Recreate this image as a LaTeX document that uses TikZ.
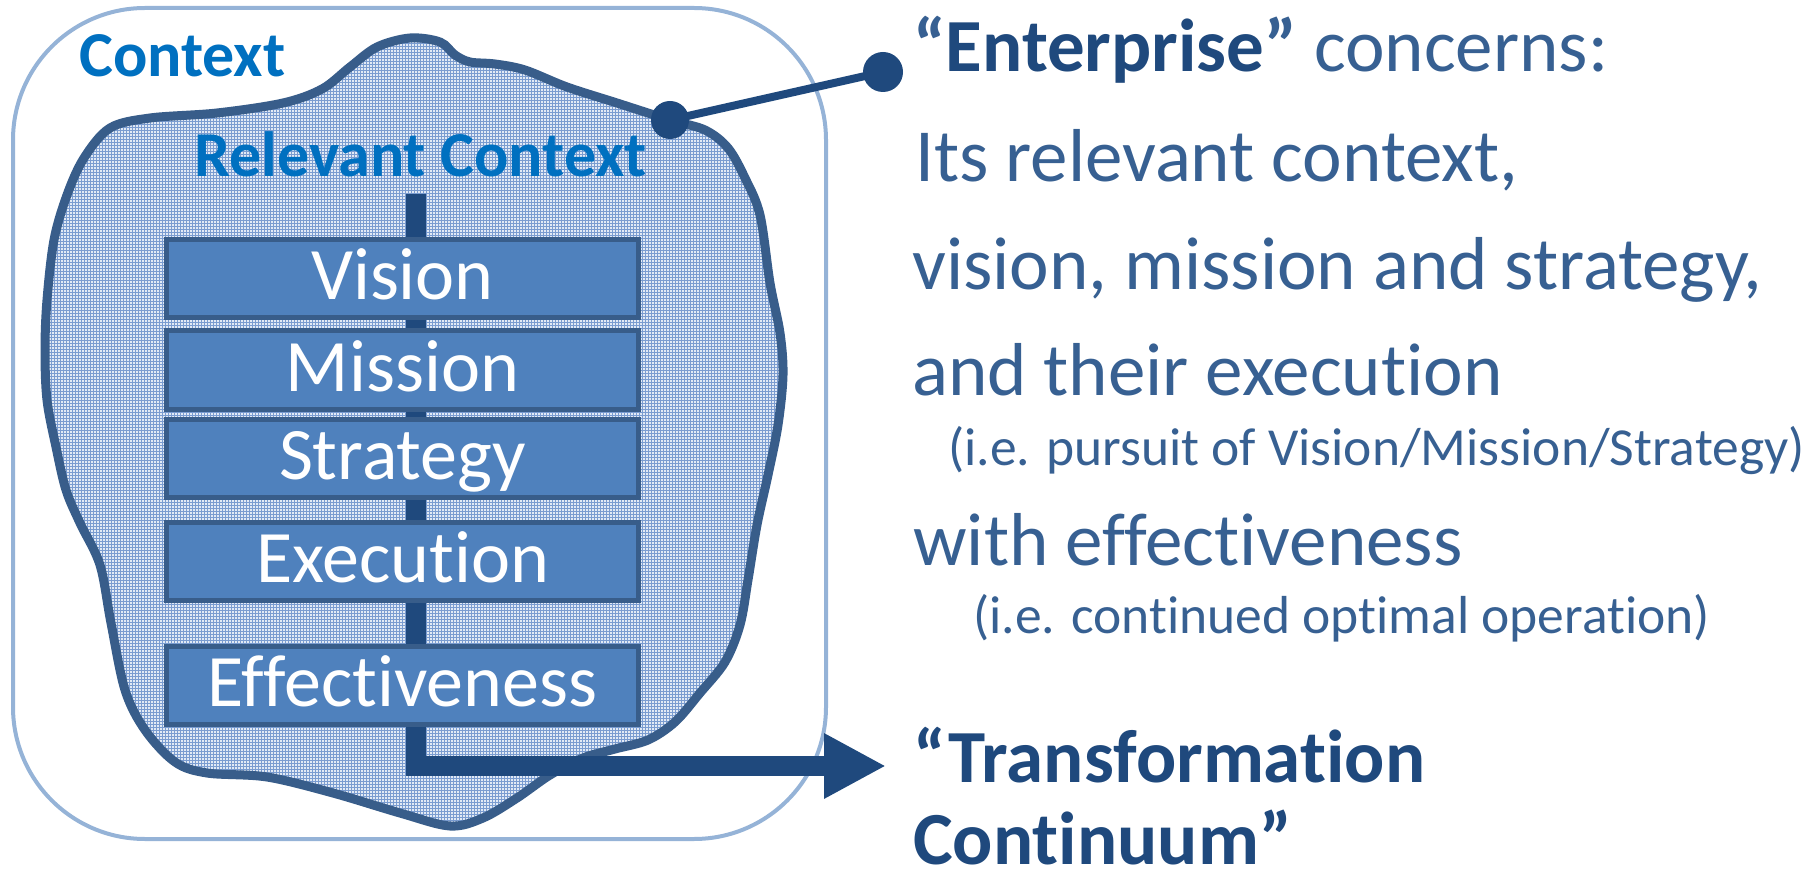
\documentclass[tikz,border=0pt]{standalone}
\usepackage{fontspec}
\setmainfont{Carlito}[Ligatures={NoCommon,NoContextual,NoRare},Contextuals={NoAlternate}]
\usetikzlibrary{arrows.meta,patterns}
\definecolor{ctxline}{HTML}{95B3D7}
\definecolor{blobline}{HTML}{385D8A}
\definecolor{blobbase}{HTML}{E2EAF5}
\definecolor{gridblue}{HTML}{7A9CD0}
\definecolor{boxfill}{HTML}{4F81BD}
\definecolor{darkblue}{HTML}{1F497D}
\definecolor{ctxtext}{HTML}{0070C0}
\definecolor{bodytext}{HTML}{376092}
\newcommand\fsz[1]{\fontsize{#1}{#1}\selectfont}
\tikzset{
  ctxbox/.style={draw=ctxline, line width=4pt, rounded corners=132pt},
  blob/.style={draw=blobline, line width=9pt, preaction={fill=blobbase}, pattern=grid, pattern color=gridblue},
  spine/.style={draw=darkblue, line width=20pt, line join=miter, -{Triangle[length=62pt,width=61pt]}},
  stepbox/.style={draw=blobline, fill=boxfill, line width=5pt, minimum width=472pt, minimum height=78pt,
    inner sep=0pt, text=white, font=\fsz{74}, text height=42pt, text depth=0pt},
  ctxlabel/.style={anchor=base west, inner sep=0pt, text=ctxtext, font=\fsz{64}\bfseries},
  bigtxt/.style={anchor=base west, inner sep=0pt, text=bodytext, font=\fsz{75}},
  smalltxt/.style={anchor=base west, inner sep=0pt, text=bodytext, font=\fsz{53.5}},
  boldtxt/.style={anchor=base west, inner sep=0pt, text=darkblue, font=\fsz{75}\bfseries},
  dot/.style={circle, fill=darkblue, inner sep=0pt},
  pin/.style={draw=darkblue, line width=8pt}
}
\begin{document}
\begin{tikzpicture}[x=1pt,y=-1pt]
\useasboundingbox (0,0) rectangle (1818,877);
% outer context box
\draw[ctxbox] (13,8) rectangle (826,839);
\node[ctxlabel] (ctx) at (79,77) {Context};
% blob
\draw[blob] plot[smooth cycle, tension=0.55] coordinates {
(110,128) (150,118) (217,113) (283,103) (322,89) (350,67) (377,47) (410,38) (440,42) (455,55) (470,62) (495,64)
(525,70) (567,87) (617,103) (670,120) (705,130) (728,148) (745,178) (760,215) (770,283) (780,333) (783,375)
(778,425) (768,475) (757,525) (748,580) (740,625) (725,662) (700,693) (675,722) (648,740) (615,749) (583,758)
(550,775) (517,798) (483,818) (450,826) (400,813) (333,793) (267,777) (207,773) (175,762) (145,730) (125,690)
(111,623) (100,565) (80,523) (66,490) (56,447) (47,400) (45,350) (47,300) (54,240) (67,195) (84,158)};
\node[ctxlabel] (rel) at (194,177) {Relevant Context};
% spine and arrow
\coordinate (spTop) at (416,194);
\coordinate (spCorner) at (416,766);
\coordinate (arrTip) at (886,766);
\draw[spine] (spTop) -- (spCorner) -- (arrTip);
% boxes
\node[stepbox] (vision) at (402.5,279) {Vision};
\node[stepbox] (mission) at (402.5,370) {Mission};
\node[stepbox] (strategy) at (402.5,458.5) {Strategy};
\node[stepbox] (execution) at (402.5,561.5) {Execution};
\node[stepbox] (effect) at (402.5,685.5) {Effectiveness};
% pin connector
\node[dot, minimum size=38pt] (dotA) at (670,120) {};
\node[dot, minimum size=40pt] (dotB) at (883,72) {};
\draw[pin] (dotA.center) -- (dotB.center);
% right text
\node[boldtxt] (l1) at (913,72) {\textcolor{bodytext}{“}Enterprise\textcolor{bodytext}{”} {\mdseries\color{bodytext}concerns:}};
\node[bigtxt] (l2) at (915,182) {Its relevant context,};
\node[bigtxt] (l3) at (912,290) {vision, mission and strategy,};
\node[bigtxt] (l4) at (912,395) {and their execution};
\node[smalltxt] (l5) at (948,465) {(i.e. pursuit of Vision/Mission/Strategy)};
\node[bigtxt] (l6) at (913,565) {with effectiveness};
\node[smalltxt] (l7) at (973,633) {(i.e. continued optimal operation)};
\node[boldtxt] (l8) at (913,782) {“Transformation};
\node[boldtxt] (l9) at (913,864) {Continuum”};
\end{tikzpicture}
\end{document}
